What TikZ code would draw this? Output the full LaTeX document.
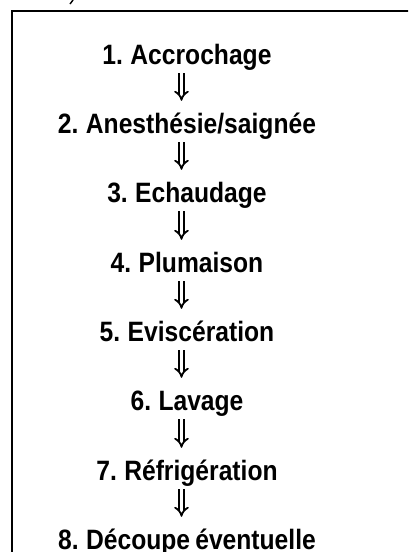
\documentclass[tikz,border=0pt]{standalone}
\usepackage{fontspec}
\setmainfont{Liberation Sans}[FakeStretch=0.88, WordSpace=0.75]
\usetikzlibrary{arrows.meta}
\begin{document}
\begin{tikzpicture}[x=1pt,y=-1pt,
  stepnode/.style={font=\bfseries\fontsize{28}{32}\selectfont, inner sep=0pt, anchor=base, text height=20pt, text depth=9pt},
  arr/.style={double, double distance=3pt, line width=1.8pt, -{Implies}, shorten >=12pt, shorten <=0pt}]
\useasboundingbox (0,0) rectangle (408,552);
\clip (0,0) rectangle (408,552);
\draw[line width=1.5pt] (12,11) rectangle (430,580);
\draw[line width=1.4pt] (73,0) -- (70,4);
\node[stepnode] (n1) at (187,64) {1. Accrochage};
\node[stepnode] (n2) at (187,133) {2. Anesthésie/saignée};
\node[stepnode] (n3) at (187,202) {3. Echaudage};
\node[stepnode] (n4) at (187,272) {4. Plumaison};
\node[stepnode] (n5) at (187,341) {5. Eviscération};
\node[stepnode] (n6) at (187,410) {6. Lavage};
\node[stepnode] (n7) at (187,480) {7. Réfrigération};
\node[stepnode] (n8) at (187,549) {8. Découpe éventuelle};
\foreach \a/\b in {n1/n2,n2/n3,n3/n4,n4/n5,n5/n6,n6/n7,n7/n8}
  \draw[arr] ([xshift=-5.5pt]\a.south) -- ([xshift=-5.5pt]\b.north);
\end{tikzpicture}
\end{document}
